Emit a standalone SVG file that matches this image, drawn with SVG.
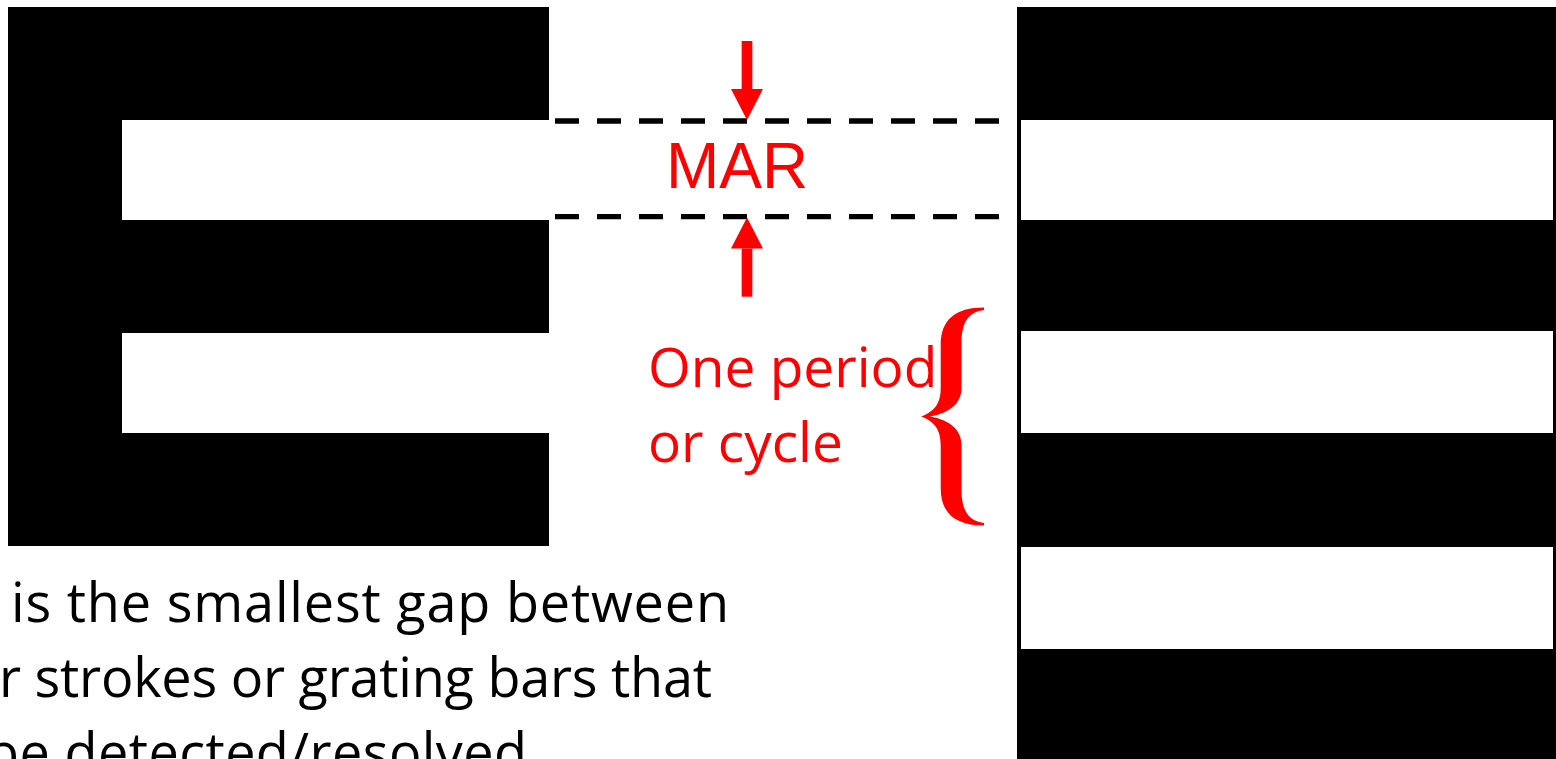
<svg xmlns="http://www.w3.org/2000/svg" width="1556" height="759" viewBox="0 0 1556 759">
  <style>
    .blk { fill: #000000; }
    .wht { fill: #ffffff; }
    .dash { stroke: #000000; stroke-width: 5.3; stroke-dasharray: 24 18; fill: none; }
    .arr { stroke: #ff0000; stroke-width: 10.7; fill: none; }
    .red { fill: #ff0000; }
    .redtxt { fill: #ff0000; font-family: "Open Sans", "Noto Sans", sans-serif; font-size: 55px; }
    .bodytxt { fill: #000000; font-family: "Open Sans", "Noto Sans", sans-serif; font-size: 54px; }
  </style>
  <defs>
    <marker id="head" markerUnits="userSpaceOnUse" markerWidth="32" markerHeight="32" refX="0" refY="16" orient="auto" viewBox="0 0 32 32">
      <path d="M0,0 L31,16 L0,32 Z" fill="#ff0000"/>
    </marker>
  </defs>
  <rect x="0" y="0" width="1556" height="759" fill="#ffffff"/>

  <g id="letter-E">
    <rect class="blk" x="8" y="7" width="541" height="539"/>
    <rect class="wht" x="122" y="120" width="427" height="100"/>
    <rect class="wht" x="122" y="333" width="427" height="100"/>
  </g>

  <g id="grating">
    <rect class="blk" x="1017" y="7" width="539" height="752"/>
    <rect class="wht" x="1021" y="120" width="532" height="100"/>
    <rect class="wht" x="1021" y="331" width="532" height="102"/>
    <rect class="wht" x="1021" y="547" width="532" height="102"/>
  </g>

  <g id="connectors">
    <line class="dash" x1="555" y1="121" x2="1000" y2="121"/>
    <line class="dash" x1="555" y1="216.7" x2="1000" y2="216.7"/>
    <line class="arr" x1="747" y1="41" x2="747" y2="89" marker-end="url(#head)"/>
    <line class="arr" x1="747" y1="296.7" x2="747" y2="248.5" marker-end="url(#head)"/>
  </g>

  <g id="mar-label">
    <text x="666" y="188" fill="#ff0000" font-family="'Liberation Sans', Arial, sans-serif" font-size="64">MAR</text>
  </g>

  <g id="period-label">
    <text class="redtxt" x="648" y="386.7">One period</text>
    <text class="redtxt" x="648" y="461.7">or cycle</text>
  </g>

  <g id="brace">
    <path class="red" d="M984 307.5 C955 307.5 940.7 320 940.7 345 L940.7 388 C940.7 405 933 412 921 416.5 C933 421 940.7 428 940.7 445 L940.7 488 C940.7 513 955 525.5 984 525.5 L984 523 C968 521 961.5 510 961.5 490 L961.5 445 C961.5 430 950 420 930 416.5 C950 413 961.5 403 961.5 388 L961.5 343 C961.5 323 968 312 984 310 Z"/>
  </g>

  <g id="definition-text">
    <text class="bodytxt" x="11" y="621.7" textLength="718">is the smallest gap between</text>
    <text class="bodytxt" x="-1" y="696.7" textLength="713">r strokes or grating bars that</text>
    <text class="bodytxt" x="-14" y="771.7" textLength="541">be detected/resolved</text>
  </g>
</svg>
